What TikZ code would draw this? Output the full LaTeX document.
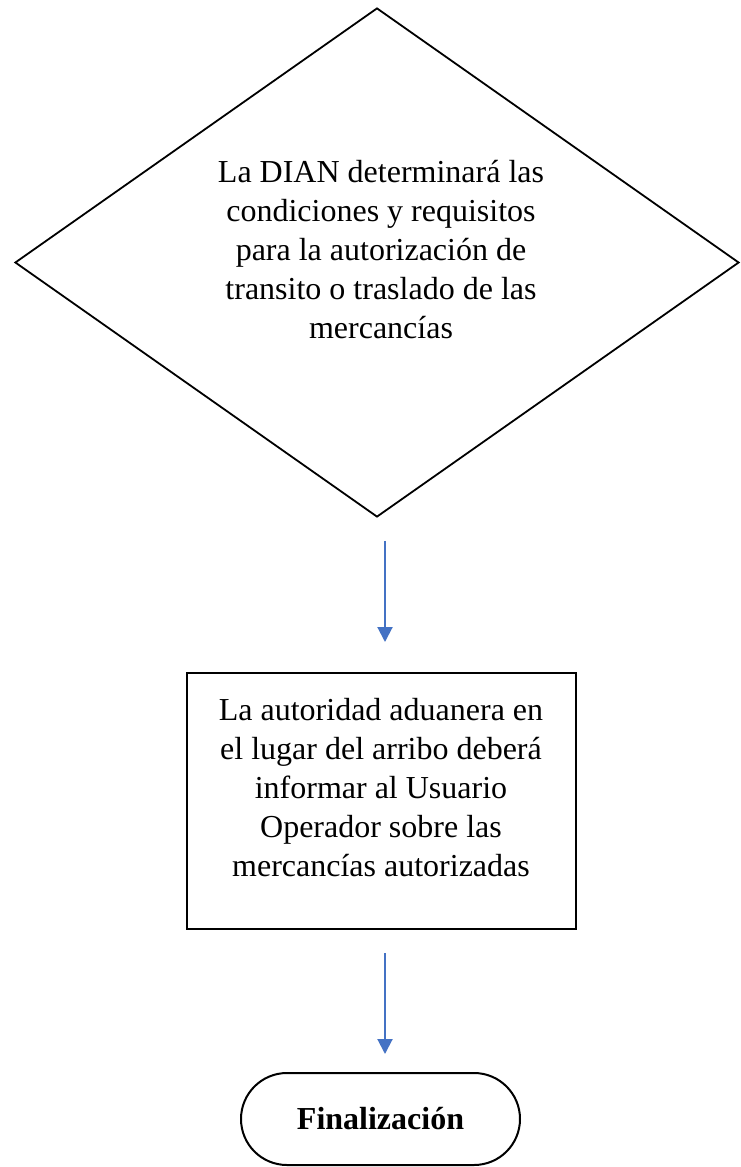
\documentclass[tikz,border=0pt]{standalone}
\usepackage{fontspec}
\setmainfont{Liberation Serif}
\usetikzlibrary{shapes.geometric,arrows.meta}
\definecolor{arrblue}{HTML}{4472C4}
\tikzset{
  decbox/.style={diamond, draw=black, line width=1.8pt, inner sep=0pt, minimum width=724pt, minimum height=509pt},
  procbox/.style={rectangle, draw=black, line width=2pt, inner sep=0pt, minimum width=389pt, minimum height=256pt},
  termbox/.style={rectangle, rounded corners=46pt, draw=black, line width=2pt, inner sep=0pt, minimum width=279pt, minimum height=92pt, font=\fontsize{32}{39}\selectfont\bfseries},
  bodytext/.style={align=center, inner sep=0pt, font=\fontsize{32}{39}\selectfont},
  flowarrow/.style={draw=arrblue, line width=2pt, -{Triangle[width=15pt,length=15pt]}}
}
\begin{document}
\begin{tikzpicture}[x=1pt,y=-1pt]
\useasboundingbox[fill=white] (0,0) rectangle (740,1167);
\node[decbox] (dec) at (377,262.5) {};
\node[bodytext] (dectext) at (381,250) {La DIAN determinará las\\condiciones y requisitos\\para la autorización de\\transito o traslado de las\\mercancías};
\node[procbox] (proc) at (381.5,801) {};
\node[bodytext] (proctext) at (381,788) {La autoridad aduanera en\\el lugar del arribo deberá\\informar al Usuario\\Operador sobre las\\mercancías autorizadas};
\node[termbox] (term) at (380.5,1119) {Finalización};
\draw[flowarrow] ([shift={(8,23)}]dec.south) -- ([shift={(3.5,-30)}]proc.north);
\draw[flowarrow] ([shift={(3.5,23)}]proc.south) -- ([shift={(4.5,-18)}]term.north);
\end{tikzpicture}
\end{document}
